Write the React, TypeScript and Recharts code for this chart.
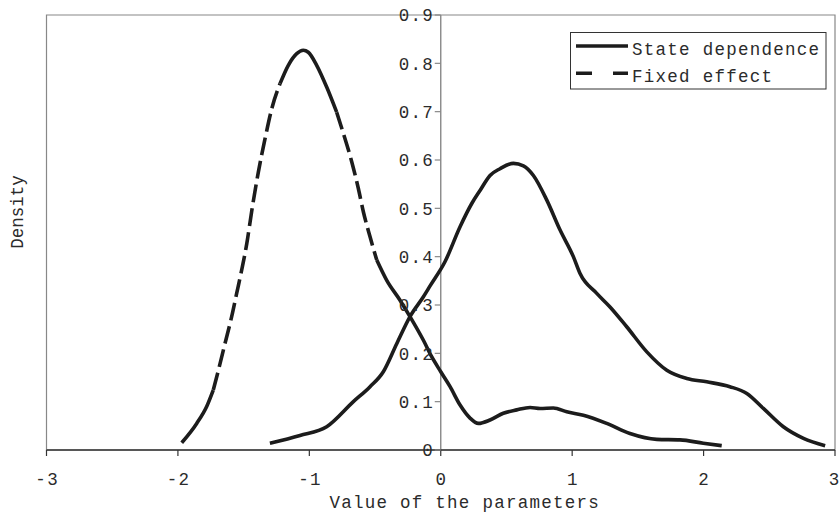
import React from 'react';
import { LineChart, Line, XAxis, YAxis, ReferenceLine, ReferenceArea, Legend } from 'recharts';

// ---- data ----
const stateDependenceX = [
  -1.3, -1.071, -0.868, -0.665, -0.538, -0.437, -0.335, -0.234, -0.132, -0.08, 0.033, 0.147, 0.236,
  0.299, 0.375, 0.451, 0.553, 0.629, 0.705, 0.807, 0.908, 1.009, 1.06, 1.187, 1.288, 1.415, 1.568,
  1.72, 1.872, 2.024, 2.2, 2.329, 2.455, 2.607, 2.76, 2.925,
];
const stateDependenceDensity = [
  0.014, 0.03, 0.048, 0.1, 0.131, 0.162, 0.22, 0.276, 0.317, 0.34, 0.39, 0.462, 0.51,
  0.537, 0.568, 0.582, 0.593, 0.588, 0.568, 0.517, 0.455, 0.4, 0.365, 0.324, 0.296, 0.255, 0.203,
  0.165, 0.148, 0.141, 0.131, 0.117, 0.086, 0.048, 0.024, 0.009,
];
const fixedEffectX = [
  -1.971, -1.857, -1.781, -1.731, -1.692, -1.642, -1.591, -1.553, -1.515, -1.476, -1.438, -1.388,
  -1.337, -1.286, -1.223, -1.16, -1.096, -1.046, -1.008, -0.944, -0.868, -0.792, -0.741, -0.677,
  -0.627, -0.589, -0.538, -0.487, -0.411, -0.31, -0.234, -0.132, -0.069, 0.0, 0.071, 0.147, 0.223,
  0.286, 0.375, 0.476, 0.578, 0.68, 0.756, 0.857, 0.959, 1.085, 1.263, 1.44, 1.644, 1.82, 1.998, 2.138,
];
const fixedEffectDensity = [
  0.015, 0.055, 0.09, 0.124, 0.165, 0.22, 0.276, 0.324, 0.372, 0.427, 0.495, 0.575,
  0.644, 0.706, 0.758, 0.796, 0.82, 0.827, 0.823, 0.796, 0.751, 0.699, 0.655, 0.596,
  0.541, 0.493, 0.441, 0.393, 0.351, 0.31, 0.276, 0.227, 0.193, 0.162, 0.131, 0.093, 0.066,
  0.055, 0.062, 0.076, 0.083, 0.088, 0.086, 0.087, 0.079, 0.072, 0.055, 0.034, 0.022, 0.021, 0.014, 0.009,
];
// x ranges where the dashed curve shows visible dash gaps
const fixedEffectDashRanges: [number, number][] = [
  [-1.731, -1.223],
  [-0.792, -0.487],
];
const xTicks = [-3, -2, -1, 0, 1, 2, 3];
const yTicks = [0, 0.1, 0.2, 0.3, 0.4, 0.5, 0.6, 0.7, 0.8, 0.9];
const seriesNames = ['State dependence', 'Fixed effect'];

// ---- layout / style ----
const W = 839;
const H = 514;
const Y_AXIS_W = 1;
const MARGIN = { top: 15, right: 4, bottom: 0, left: 45.5 };
const PLOT_LEFT = MARGIN.left + Y_AXIS_W;
const PLOT_W = W - PLOT_LEFT - MARGIN.right;
const ZERO_X = PLOT_LEFT + PLOT_W / 2; // x = 0 is the middle of the symmetric domain
const FONT = '"Liberation Mono", "Courier New", monospace';
const FS = 17.5;
const LS = 1.27; // letter spacing -> ~11.77px per character, like the reference
const TEXT = '#2b2b2b';
const INK = '#1c1c1c';
const LW = 3.6;
const DASH = '18 6';

type Pt = { x: number; y: number };
const toPts = (xs: number[], ys: number[]): Pt[] => xs.map((x, i) => ({ x, y: ys[i] }));

function splitRuns(pts: Pt[], ranges: [number, number][]) {
  const runs: { dashed: boolean; pts: Pt[] }[] = [];
  for (let i = 0; i < pts.length - 1; i++) {
    const mid = (pts[i].x + pts[i + 1].x) / 2;
    const dashed = ranges.some(([a, b]) => mid > a && mid < b);
    const last = runs[runs.length - 1];
    if (last && last.dashed === dashed) last.pts.push(pts[i + 1]);
    else runs.push({ dashed, pts: [pts[i], pts[i + 1]] });
  }
  return runs;
}

const statePts = toPts(stateDependenceX, stateDependenceDensity);
const fixedRuns = splitRuns(toPts(fixedEffectX, fixedEffectDensity), fixedEffectDashRanges);

const fmtY = (v: number) => (v === 0 ? '0' : v.toFixed(1));

const YTick = (props: any) => {
  const { y, payload } = props;
  return (
    <g>
      <line x1={ZERO_X - 6} x2={ZERO_X} y1={y} y2={y} stroke="#888" strokeWidth={1.2} />
      <text
        x={ZERO_X - 8 + LS}
        y={y}
        dy="0.36em"
        textAnchor="end"
        fontFamily={FONT}
        fontSize={FS}
        letterSpacing={LS}
        fill={TEXT}
      >
        {fmtY(payload.value)}
      </text>
    </g>
  );
};

const DensityLabel = () => (
  <text
    x={23}
    y={212}
    transform="rotate(-90 23 212)"
    textAnchor="middle"
    fontFamily={FONT}
    fontSize={FS}
    fill={TEXT}
  >
    Density
  </text>
);

const LegendBox = () => (
  <svg width={257} height={58} style={{ display: 'block' }}>
    <rect x={0.5} y={0.5} width={255.5} height={56.5} fill="#fff" stroke="#333" strokeWidth={1} />
    {seriesNames.map((name, i) => {
      const ly = 14 + i * 27.3;
      return (
        <g key={name}>
          <line
            x1={6}
            x2={58}
            y1={ly}
            y2={ly}
            stroke={INK}
            strokeWidth={LW}
            strokeDasharray={i === 1 ? '16 21' : undefined}
          />
          <text x={62} y={ly + 8.5} fontFamily={FONT} fontSize={FS} letterSpacing={LS} fill={TEXT}>
            {name}
          </text>
        </g>
      );
    })}
  </svg>
);

export default function App() {
  return (
    <div style={{ position: 'absolute', left: 0, top: 0, background: '#fff' }}>
      <LineChart width={W} height={H} margin={MARGIN}>
        <ReferenceArea
          x1={-3}
          x2={3}
          y1={0}
          y2={0.9}
          fill="none"
          fillOpacity={0}
          stroke="#888"
          strokeWidth={1.2}
          ifOverflow="visible"
        />
        <XAxis
          type="number"
          dataKey="x"
          domain={[-3, 3]}
          ticks={xTicks}
          allowDataOverflow
          height={64}
          tickSize={6}
          tickMargin={17}
          axisLine={{ stroke: '#333', strokeWidth: 1.4 }}
          tickLine={{ stroke: '#333', strokeWidth: 1.2 }}
          tick={{ fontFamily: FONT, fontSize: FS, fill: TEXT, letterSpacing: LS, dx: LS / 2 }}
          tickFormatter={(v: number) => String(v)}
          label={{
            value: 'Value of the parameters',
            position: 'insideBottom',
            offset: 6,
            dx: 24,
            style: { fontFamily: FONT, fontSize: FS, fill: TEXT, letterSpacing: LS },
          }}
        />
        <YAxis
          type="number"
          dataKey="y"
          domain={[0, 0.9]}
          ticks={yTicks}
          allowDataOverflow
          width={Y_AXIS_W}
          axisLine={false}
          tickLine={false}
          tick={<YTick />}
          label={<DensityLabel />}
        />
        <ReferenceLine x={0} stroke="#888" strokeWidth={1.4} ifOverflow="visible" />
        <Line
          data={statePts}
          dataKey="y"
          type="monotone"
          stroke={INK}
          strokeWidth={LW}
          dot={false}
          activeDot={false}
          isAnimationActive={false}
          name={seriesNames[0]}
        />
        {fixedRuns.map((run, i) => (
          <Line
            key={'fixed' + i}
            data={run.pts}
            dataKey="y"
            type="monotone"
            stroke={INK}
            strokeWidth={LW}
            strokeDasharray={run.dashed ? DASH : undefined}
            dot={false}
            activeDot={false}
            isAnimationActive={false}
            name={seriesNames[1]}
          />
        ))}
        <Legend
          layout="horizontal"
          verticalAlign="middle"
          align="center"
          wrapperStyle={{ left: 569.5, top: 32, width: 257, height: 58 }}
          content={() => <LegendBox />}
        />
      </LineChart>
    </div>
  );
}
